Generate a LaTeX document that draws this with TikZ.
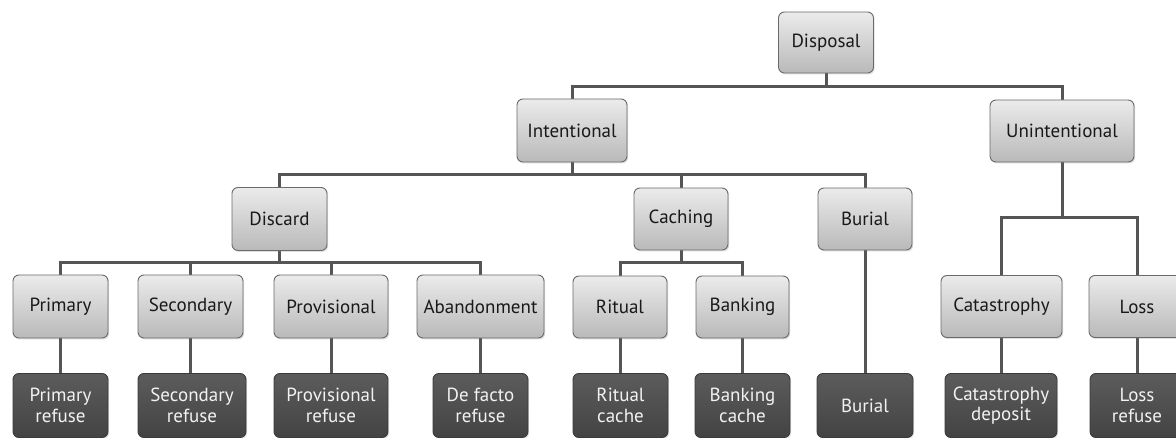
\documentclass[tikz,border=0pt]{standalone}
\usepackage{fontspec}
\setmainfont{PT Sans}
\usetikzlibrary{shadows}
\definecolor{lineg}{HTML}{555555}
\definecolor{lighttop}{HTML}{EBEBEB}
\definecolor{lightbot}{HTML}{B9B9B9}
\definecolor{lightbd}{HTML}{6A6A6A}
\definecolor{darktop}{HTML}{5C5C5C}
\definecolor{darkbot}{HTML}{434343}
\definecolor{darkbd}{HTML}{3A3A3A}
\tikzset{
  lightbox/.style={draw=lightbd, line width=0.9pt, rounded corners=6pt,
    top color=lighttop, bottom color=lightbot, text=black!90,
    minimum height=62pt, inner sep=0pt, align=center,
    font=\fontsize{19}{20}\selectfont,
    drop shadow={opacity=0.25, shadow xshift=1.2pt, shadow yshift=-1.5pt}},
  darkbox/.style={draw=darkbd, line width=0.9pt, rounded corners=6pt,
    top color=darktop, bottom color=darkbot, text=white!95!black,
    minimum height=64pt, inner sep=0pt, align=center,
    font=\fontsize{19}{20.5}\selectfont,
    drop shadow={opacity=0.2, shadow xshift=1.2pt, shadow yshift=-1.5pt}},
  conn/.style={draw=lineg, line width=3pt}
}
\begin{document}
\begin{tikzpicture}[x=1pt,y=-1pt]
\clip (0,0) rectangle (1176,438);
\fill[white] (0,0) rectangle (1176,438);
% bus coordinates
\coordinate (b1) at (826,87);
\coordinate (b2) at (572,175);
\coordinate (b3) at (279.5,263);
\coordinate (b4) at (681,263);
\coordinate (b5) at (1062,218);
% connectors (drawn first, under boxes)
\draw[conn] (826,42) -- (b1);
\draw[conn] (572,130) |- (b1) -| (1062,130);
\draw[conn] (572,130) -- (b2);
\draw[conn] (279.5,219) |- (b2) -| (865,219);
\draw[conn] (681,219) |- (b2);
\draw[conn] (279.5,219) -- (b3);
\draw[conn] (60.5,306) |- (b3) -| (480.5,306);
\draw[conn] (190.5,306) |- (b3);
\draw[conn] (331,306) |- (b3);
\draw[conn] (681,219) -- (b4);
\draw[conn] (620,306) |- (b4) -| (742.5,306);
\draw[conn] (1062,130) -- (b5);
\draw[conn] (1001.5,306) |- (b5) -| (1137,306);
% vertical links to bottom row
\draw[conn] (60.5,306) -- (60.5,405);
\draw[conn] (190.5,306) -- (190.5,405);
\draw[conn] (331,306) -- (331,405);
\draw[conn] (480.5,306) -- (480.5,405);
\draw[conn] (620,306) -- (620,405);
\draw[conn] (742.5,306) -- (742.5,405);
\draw[conn] (865,219) -- (865,405);
\draw[conn] (1001.5,306) -- (1001.5,405);
\draw[conn] (1137,306) -- (1137,405);
% level 0
\node[lightbox, minimum width=95pt, minimum height=61pt] (disposal) at (826,42.5) {Disposal};
% level 1
\node[lightbox, minimum width=110pt, minimum height=63pt] (intentional) at (572,130.5) {Intentional};
\node[lightbox, minimum width=144pt] (unintentional) at (1062,131) {Unintentional};
% level 2
\node[lightbox, minimum width=95pt, minimum height=63pt] (discard) at (279.5,219) {Discard};
\node[lightbox, minimum width=94pt] (caching) at (681,219) {Caching};
\node[lightbox, minimum width=94pt] (burial) at (865,219) {Burial};
% level 3
\node[lightbox, minimum width=95pt, minimum height=63pt] (primary) at (60.5,306.5) {Primary};
\node[lightbox, minimum width=105pt, minimum height=63pt] (secondary) at (190.5,306.5) {Secondary};
\node[lightbox, minimum width=114pt, minimum height=63pt] (provisional) at (331,306.5) {Provisional};
\node[lightbox, minimum width=127pt, minimum height=63pt] (abandonment) at (480.5,306.5) {Abandonment};
\node[lightbox, minimum width=94pt] (ritual) at (620,307) {Ritual};
\node[lightbox, minimum width=93pt] (banking) at (742.5,307) {Banking};
\node[lightbox, minimum width=121pt] (catastrophy) at (1001.5,306.5) {Catastrophy};
\node[lightbox, minimum width=96pt] (loss) at (1137,306.5) {Loss};
% bottom row
\node[darkbox, minimum width=95pt] (primaryr) at (60.5,405.5) {Primary\\refuse};
\node[darkbox, minimum width=108pt] (secondaryr) at (192,405.5) {Secondary\\refuse};
\node[darkbox, minimum width=114pt] (provisionalr) at (331,405.5) {Provisional\\refuse};
\node[darkbox, minimum width=95pt] (defacto) at (480.5,405.5) {De facto\\refuse};
\node[darkbox, minimum width=95pt] (ritualc) at (620.5,405.5) {Ritual\\cache};
\node[darkbox, minimum width=95pt] (bankingc) at (742.5,405.5) {Banking\\cache};
\node[darkbox, minimum width=96pt] (burialb) at (865,405.5) {Burial};
\node[darkbox, minimum width=112pt] (catastrophyd) at (1001,405.5) {Catastrophy\\deposit};
\node[darkbox, minimum width=94pt] (lossr) at (1137,405.5) {Loss\\refuse};
\end{tikzpicture}
\end{document}
